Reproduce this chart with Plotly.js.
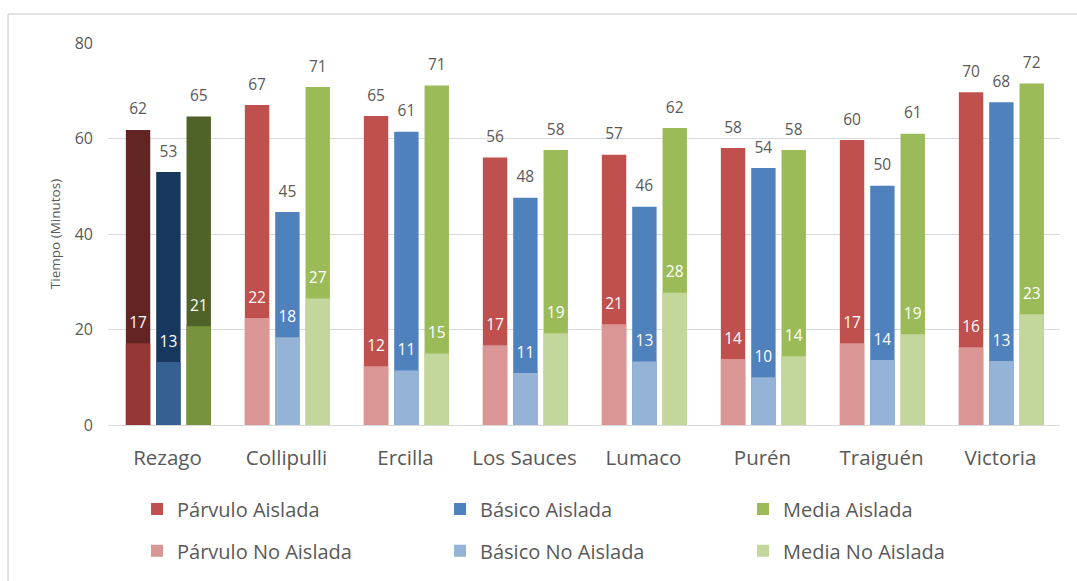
<!DOCTYPE html>
<html>
<head>
<meta charset="utf-8">
<script src="https://cdn.plot.ly/plotly-3.0.1.min.js"></script>
<style>html,body{margin:0;padding:0;background:#fff;}#chart{width:1077px;height:581px;}</style>
</head>
<body>
<div id="chart"></div>
<script>
const categories = ["Rezago", "Collipulli", "Ercilla", "Los Sauces", "Lumaco", "Purén", "Traiguén", "Victoria"];
const parvuloAislada   = [61.8, 67.0, 64.7, 56.0, 56.6, 58.0, 59.7, 69.7];
const basicoAislada    = [53.0, 44.6, 61.4, 47.6, 45.7, 53.8, 50.1, 67.6];
const mediaAislada     = [64.6, 70.8, 71.1, 57.6, 62.2, 57.6, 61.0, 71.5];
const parvuloNoAislada = [17.1, 22.4, 12.3, 16.7, 21.1, 13.8, 17.1, 16.3];
const basicoNoAislada  = [13.2, 18.4, 11.4, 10.9, 13.3, 10.0, 13.6, 13.4];
const mediaNoAislada   = [20.7, 26.5, 15.0, 19.2, 27.7, 14.4, 19.0, 23.2];

const seriesNames = ["Párvulo Aislada", "Básico Aislada", "Media Aislada",
                     "Párvulo No Aislada", "Básico No Aislada", "Media No Aislada"];

const col = {
  pA: "#C0504D", bA: "#4F81BD", mA: "#9BBB59",
  pN: "#D99694", bN: "#95B3D7", mN: "#C3D69B",
  pAr: "#632523", bAr: "#17375E", mAr: "#4F6228",
  pNr: "#953735", bNr: "#376092", mNr: "#77933C"
};
const colorArr = (normal, rez) => categories.map((c, i) => i === 0 ? rez : normal);

const W = 0.205;
const offs = [-0.35, -0.095, 0.16];
const font = "Open Sans, Segoe UI, sans-serif";
const grey = "#595959";
const tmpl = '<span style="font-size:15.5px">%{text}</span><br> ';

function barTrace(name, y, c, cr, k, txtColor) {
  return {
    type: "bar", name: name, x: categories, y: y,
    width: W, offset: offs[k],
    marker: {color: colorArr(c, cr), line: {width: 0}},
    text: y.map(v => Math.round(v)),
    texttemplate: tmpl,
    textposition: "outside",
    outsidetextfont: {family: font, size: 8, color: txtColor},
    cliponaxis: false, hoverinfo: "skip",
    showlegend: false
  };
}
function legendTrace(name, c, lg) {
  return {
    type: "bar", name: name, x: [categories[0]], y: [null],
    marker: {color: c}, showlegend: true, legend: lg, hoverinfo: "skip"
  };
}

const data = [
  barTrace(seriesNames[0], parvuloAislada, col.pA, col.pAr, 0, grey),
  barTrace(seriesNames[1], basicoAislada, col.bA, col.bAr, 1, grey),
  barTrace(seriesNames[2], mediaAislada, col.mA, col.mAr, 2, grey),
  barTrace(seriesNames[3], parvuloNoAislada, col.pN, col.pNr, 0, "#ffffff"),
  barTrace(seriesNames[4], basicoNoAislada, col.bN, col.bNr, 1, "#ffffff"),
  barTrace(seriesNames[5], mediaNoAislada, col.mN, col.mNr, 2, "#ffffff"),
  legendTrace(seriesNames[0], col.pA, "legend"),
  legendTrace(seriesNames[1], col.bA, "legend"),
  legendTrace(seriesNames[2], col.mA, "legend"),
  legendTrace(seriesNames[3], col.pN, "legend2"),
  legendTrace(seriesNames[4], col.bN, "legend2"),
  legendTrace(seriesNames[5], col.mN, "legend2")
];

const legendCommon = {
  orientation: "h", xanchor: "left", yanchor: "middle",
  entrywidth: 258, entrywidthmode: "pixels",
  font: {family: font, size: 20, color: grey},
  bgcolor: "rgba(0,0,0,0)", traceorder: "normal"
};

const layout = {
  width: 1077, height: 581,
  margin: {l: 108, r: 17, t: 43, b: 155},
  paper_bgcolor: "#ffffff", plot_bgcolor: "#ffffff",
  barmode: "overlay",
  showlegend: true,
  font: {family: font, color: grey},
  xaxis: {
    type: "category", showgrid: false, zeroline: false, showline: false,
    ticks: "", tickfont: {family: font, size: 20.5, color: grey},
    ticklabelstandoff: 18, fixedrange: true
  },
  yaxis: {
    range: [0, 80], dtick: 20, showgrid: true, gridcolor: "#d9d9d9", gridwidth: 1,
    zeroline: true, zerolinecolor: "#d9d9d9", zerolinewidth: 1,
    showline: false, ticks: "", tickfont: {family: font, size: 16, color: grey},
    ticklabelstandoff: 14,
    title: {text: "Tiempo (Minutos)", font: {family: font, size: 13.5, color: grey}, standoff: 10}
  },
  legend: Object.assign({}, legendCommon, {x: 0.0305, y: -0.217}),
  legend2: Object.assign({}, legendCommon, {x: 0.0305, y: -0.326}),
  shapes: [
    {type: "line", xref: "paper", yref: "paper", x0: -0.105, x1: -0.105, y0: 1.076, y1: -0.45, line: {color: "#d9d9d9", width: 1.5}},
    {type: "line", xref: "paper", yref: "paper", x0: -0.105, x1: 1.03, y0: 1.076, y1: 1.076, line: {color: "#d9d9d9", width: 1.5}}
  ]
};

Plotly.newPlot("chart", data, layout, {displayModeBar: false, staticPlot: true});
</script>
</body>
</html>
